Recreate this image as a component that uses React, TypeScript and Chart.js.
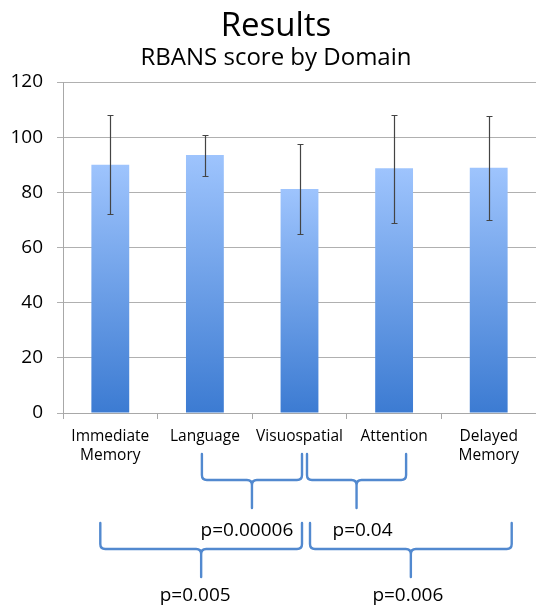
import React, { useEffect, useRef } from "react";
import { Chart, registerables } from "chart.js";

Chart.register(...registerables);

// ---- data ----
const categories: (string | string[])[] = [
  ["Immediate", "Memory"],
  "Language",
  "Visuospatial",
  "Attention",
  ["Delayed", "Memory"],
];
const means = [90.0, 93.5, 81.2, 88.7, 88.9];
const errLow = [72.3, 86.0, 64.9, 68.9, 70.1];
const errHigh = [107.9, 100.8, 97.5, 108.2, 107.7];
const yMin = 0;
const yMax = 120;
const yStep = 20;

// comparisons (category indices) and p-values
const braceFrom = [1, 2, 0, 2];
const braceTo = [2, 3, 2, 4];
const braceRow = [0, 0, 1, 1];
const pLabels = ["p=0.00006", "p=0.04", "p=0.005", "p=0.006"];

const FONT = "'Open Sans', sans-serif";

const errorBarPlugin = {
  id: "errorBars",
  afterDatasetsDraw(chart: any) {
    const { ctx, scales } = chart;
    const x = scales.x;
    const y = scales.y;
    ctx.save();
    ctx.strokeStyle = "#444444";
    ctx.lineWidth = 1.2;
    for (let i = 0; i < means.length; i++) {
      const px = Math.round(x.getPixelForValue(i)) + 0.5;
      const yt = Math.round(y.getPixelForValue(errHigh[i])) + 0.5;
      const yb = Math.round(y.getPixelForValue(errLow[i])) + 0.5;
      ctx.beginPath();
      ctx.moveTo(px, yt);
      ctx.lineTo(px, yb);
      ctx.moveTo(px - 3, yt);
      ctx.lineTo(px + 3, yt);
      ctx.moveTo(px - 3, yb);
      ctx.lineTo(px + 3, yb);
      ctx.stroke();
    }
    ctx.restore();
  },
};

// brace geometry tweaks (pixels relative to category centres / axis bottom)
const braceFromDx = [-3, 7.5, -10, 10.5];
const braceToDx = [2.5, 12, 2.5, 23];
const labelDx = [-5, 6, -6, -3];
const rowTop = [41, 110];
const rowMid = [67, 136];
const rowEnd = [95, 164];
const rowText = [123, 188];

const bracePlugin = {
  id: "braces",
  afterDraw(chart: any) {
    const { ctx, scales } = chart;
    const x = scales.x;
    const base = scales.y.bottom;
    ctx.save();
    ctx.strokeStyle = "#5289cf";
    ctx.lineWidth = 2.4;
    ctx.lineJoin = "round";
    ctx.lineCap = "round";
    const r = 5;
    for (let i = 0; i < pLabels.length; i++) {
      const x1 = x.getPixelForValue(braceFrom[i]) + braceFromDx[i];
      const x2 = x.getPixelForValue(braceTo[i]) + braceToDx[i];
      const xm = (x1 + x2) / 2;
      const row = braceRow[i];
      const yT = base + rowTop[row];
      const yH = base + rowMid[row];
      const yE = base + rowEnd[row];
      ctx.beginPath();
      ctx.moveTo(x1, yT);
      ctx.lineTo(x1, yH - r);
      ctx.quadraticCurveTo(x1, yH, x1 + r, yH);
      ctx.lineTo(xm - r, yH);
      ctx.quadraticCurveTo(xm, yH, xm, yH + r);
      ctx.lineTo(xm, yE);
      ctx.moveTo(xm, yH + r);
      ctx.quadraticCurveTo(xm, yH, xm + r, yH);
      ctx.lineTo(x2 - r, yH);
      ctx.quadraticCurveTo(x2, yH, x2, yH - r);
      ctx.lineTo(x2, yT);
      ctx.stroke();

      ctx.fillStyle = "#000";
      ctx.font = `19px ${FONT}`;
      ctx.textAlign = "center";
      ctx.textBaseline = "alphabetic";
      ctx.fillText(pLabels[i], xm + labelDx[i], base + rowText[row]);
    }
    ctx.restore();
  },
};

export default function App() {
  const canvasRef = useRef<HTMLCanvasElement | null>(null);

  useEffect(() => {
    document.body.style.margin = "0";
    const canvas = canvasRef.current;
    if (!canvas) return;
    const chart = new Chart(canvas, {
      type: "bar",
      data: {
        labels: categories as any,
        datasets: [
          {
            data: means,
            backgroundColor: (context: any) => {
              const ch = context.chart;
              const ys = ch.scales && ch.scales.y;
              if (!ys || context.dataIndex === undefined) return "#6a9ee8";
              const v = means[context.dataIndex];
              const top = ys.getPixelForValue(v);
              const bot = ys.getPixelForValue(0);
              if (!isFinite(top) || !isFinite(bot) || top === bot) return "#6a9ee8";
              const g = ch.ctx.createLinearGradient(0, top, 0, bot);
              g.addColorStop(0, "#9ec4fd");
              g.addColorStop(1, "#3c7bd2");
              return g;
            },
            borderWidth: 0,
            barPercentage: 0.4,
            categoryPercentage: 1.0,
          },
        ],
      },
      options: {
        responsive: false,
        animation: false,
        devicePixelRatio: 1,
        layout: { padding: { left: 16, right: 0, top: 0, bottom: 0 } },
        plugins: {
          legend: { display: false },
          tooltip: { enabled: false },
          title: {
            display: true,
            text: "Results",
            color: "#000",
            font: { family: FONT, size: 33, weight: "normal", lineHeight: 1 },
            padding: { top: 10.3, bottom: 0.3 },
          },
          subtitle: {
            display: true,
            text: "RBANS score by Domain",
            color: "#000",
            font: { family: FONT, size: 24, weight: "normal" },
            padding: { top: 0, bottom: 9.6 },
          },
        },
        scales: {
          x: {
            afterFit: (scale: any) => {
              scale.height = 193;
            },
            grid: {
              display: true,
              drawOnChartArea: false,
              drawTicks: true,
              tickLength: 6,
              color: "#a8a8a8",
              offset: true,
            },
            border: { display: true, color: "#a8a8a8" },
            ticks: {
              color: "#000",
              font: { family: FONT, size: 15.5, lineHeight: 1.17 },
              padding: 9,
              maxRotation: 0,
              autoSkip: false,
            },
          },
          y: {
            min: yMin,
            max: yMax,
            afterFit: (scale: any) => {
              scale.width = 47;
              scale._computeLabelArea = () => undefined;
            },
            grid: {
              color: "#b0b0b0",
              tickLength: 6,
              drawTicks: true,
            },
            border: { display: true, color: "#a8a8a8" },
            ticks: {
              stepSize: yStep,
              color: "#000",
              font: { family: FONT, size: 19 },
              padding: 14,
            },
          },
        },
      },
      plugins: [errorBarPlugin, bracePlugin],
    });
    return () => chart.destroy();
  }, []);

  return (
    <div style={{ width: 536, height: 606 }}>
      <canvas ref={canvasRef} width={536} height={606} />
    </div>
  );
}
